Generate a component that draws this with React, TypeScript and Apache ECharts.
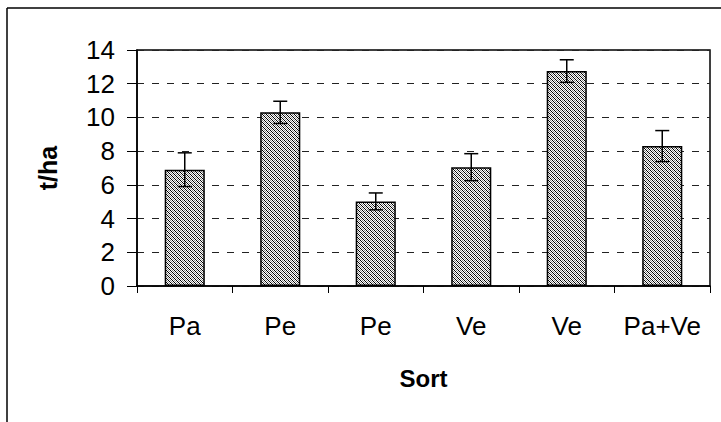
import React, { useEffect, useRef } from "react";
import * as echarts from "echarts";

const categories = ["Pa", "Pe", "Pe", "Ve", "Ve", "Pa+Ve"];
const values = [6.9, 10.3, 5.02, 7.05, 12.75, 8.3];
const errors = [1.0, 0.66, 0.5, 0.8, 0.67, 0.92];
const yTicks = { min: 0, max: 14, interval: 2 };
const xTitle = "Sort";
const yTitle = "t/ha";

const FONT = "'Liberation Sans', Arial, sans-serif";

function makePattern(): string {
  const c = document.createElement("canvas");
  c.width = 4;
  c.height = 4;
  const ctx = c.getContext("2d")!;
  ctx.fillStyle = "#ffffff";
  ctx.fillRect(0, 0, 4, 4);
  for (let i = 0; i < 4; i++) {
    ctx.fillStyle = "#000000";
    ctx.fillRect(i, i, 1, 1);
    ctx.fillStyle = "#8a8a8a";
    ctx.fillRect((i + 2) % 4, i, 1, 1);
  }
  return c.toDataURL();
}

export default function App() {
  const ref = useRef<HTMLDivElement>(null);
  useEffect(() => {
    if (!ref.current) return;
    const chart = echarts.init(ref.current, undefined, { renderer: "svg" });
    const pattern = makePattern();
    const errData = values.map((v, i) => [i, v - errors[i], v + errors[i]]);
    chart.setOption({
      animation: false,
      backgroundColor: "#ffffff",
      textStyle: { fontFamily: FONT },
      grid: {
        left: 137,
        right: 11,
        top: 50,
        bottom: 136,
        show: true,
        borderColor: "#000",
        borderWidth: 1.5,
        backgroundColor: "transparent",
      },
      graphic: [
        { type: "line", shape: { x1: 7, y1: 8, x2: 721, y2: 8 }, style: { stroke: "#000", lineWidth: 1.5 } },
        { type: "line", shape: { x1: 7, y1: 8, x2: 7, y2: 422 }, style: { stroke: "#000", lineWidth: 1.5 } },
      ],
      xAxis: {
        type: "category",
        data: categories,
        name: xTitle,
        nameLocation: "middle",
        nameGap: 80,
        nameTextStyle: { fontSize: 24, fontWeight: "bold", color: "#000", fontFamily: FONT },
        axisLine: { show: true, lineStyle: { color: "#000", width: 1.5 } },
        axisTick: { show: true, interval: 0, length: 7, lineStyle: { color: "#000", width: 1 } },
        axisLabel: { interval: 0, fontSize: 26, color: "#000", margin: 27, fontFamily: FONT },
      },
      yAxis: {
        type: "value",
        min: yTicks.min,
        max: yTicks.max,
        interval: yTicks.interval,
        name: yTitle,
        nameLocation: "middle",
        nameRotate: 90,
        nameGap: 77,
        nameTextStyle: { fontSize: 25, fontWeight: "bold", color: "#000", fontFamily: FONT },
        axisLine: { show: true, lineStyle: { color: "#000", width: 1.5 } },
        axisTick: { show: true, length: 10, lineStyle: { color: "#000", width: 1 } },
        axisLabel: { fontSize: 26, color: "#000", margin: 22, fontFamily: FONT },
        splitLine: { show: true, lineStyle: { color: "#222", width: 1, type: [7, 8] } },
      },
      series: [
        {
          type: "bar",
          data: values,
          barWidth: "42%",
          itemStyle: {
            color: { image: pattern, repeat: "repeat" },
            borderColor: "#000",
            borderWidth: 1.5,
          },
        },
        {
          type: "custom",
          data: errData,
          z: 10,
          renderItem: (params: any, api: any) => {
            const x = api.value(0);
            const lo = api.coord([x, api.value(1)]);
            const hi = api.coord([x, api.value(2)]);
            const hw = 7;
            const style = { stroke: "#000", lineWidth: 1.5 };
            return {
              type: "group",
              children: [
                { type: "line", shape: { x1: hi[0], y1: hi[1], x2: lo[0], y2: lo[1] }, style },
                { type: "line", shape: { x1: hi[0] - hw, y1: hi[1], x2: hi[0] + hw, y2: hi[1] }, style },
                { type: "line", shape: { x1: lo[0] - hw, y1: lo[1], x2: lo[0] + hw, y2: lo[1] }, style },
              ],
            };
          },
        },
      ],
    });
    return () => chart.dispose();
  }, []);
  return (
    <div
      ref={ref}
      style={{ position: "fixed", left: 0, top: 0, width: 721, height: 422, background: "#fff" }}
    />
  );
}
